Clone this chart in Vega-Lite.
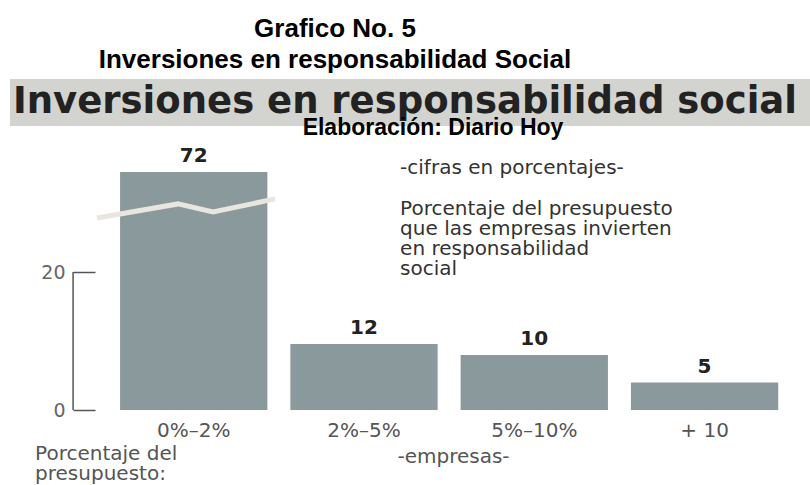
{
  "$schema": "https://vega.github.io/schema/vega-lite/v6.json",
  "padding": {"left": 10, "top": 16, "right": 0, "bottom": 0},
  "bounds": "flush",
  "spacing": 0,
  "background": "white",
  "title": {
    "text": ["Grafico No. 5", "Inversiones en responsabilidad Social"],
    "font": "Liberation Sans",
    "fontSize": 26,
    "fontWeight": "bold",
    "color": "#000000",
    "lineHeight": 31,
    "anchor": "middle",
    "dx": -75,
    "offset": 6
  },
  "config": {"view": {"stroke": null}, "font": "DejaVu Sans"},
  "vconcat": [
    {
      "width": 800,
      "height": 47,
      "view": {"fill": "#d3d3cf", "stroke": null},
      "data": {"values": [{"banner": "Inversiones en responsabilidad social", "source": "Elaboración: Diario Hoy"}]},
      "layer": [
        {
          "mark": {"type": "text", "font": "DejaVu Sans", "fontWeight": "bold", "fontSize": 37, "color": "#222222", "baseline": "alphabetic", "align": "center", "dx": -5, "dy": 10},
          "encoding": {"text": {"field": "banner", "type": "nominal"}}
        },
        {
          "mark": {"type": "text", "font": "Liberation Sans", "fontWeight": "bold", "fontSize": 23, "color": "#000000", "baseline": "alphabetic", "align": "center", "dx": 23, "dy": 32.5},
          "encoding": {"text": {"field": "source", "type": "nominal"}}
        }
      ]
    },
    {
      "width": 800,
      "height": 284,
      "resolve": {"scale": {"x": "independent"}, "axis": {"x": "independent"}},
      "layer": [
        {
          "data": {"values": [
            {"rango": "0%–2%", "empresas": 72},
            {"rango": "2%–5%", "empresas": 12},
            {"rango": "5%–10%", "empresas": 10},
            {"rango": "+ 10", "empresas": 5}
          ]},
          "encoding": {
            "x": {
              "field": "rango",
              "type": "nominal",
              "sort": null,
              "scale": {"domain": ["0%–2%", "2%–5%", "5%–10%", "+ 10"], "paddingInner": 0.135, "paddingOuter": 0.4165, "align": 0.776},
              "axis": {
                "title": "-empresas-",
                "labelAngle": 0,
                "domain": false,
                "ticks": false,
                "labelFont": "DejaVu Sans",
                "labelFontSize": 20,
                "labelColor": "#555555",
                "labelPadding": 10,
                "titleFont": "DejaVu Sans",
                "titleFontSize": 20,
                "titleFontWeight": "normal",
                "titleColor": "#555555",
                "titlePadding": 6,
                "titleX": 443
              }
            }
          },
          "layer": [
            {
              "mark": {"type": "bar", "color": "#8a999c"},
              "encoding": {
                "y": {
                  "field": "empresas",
                  "type": "quantitative",
                  "scale": {"domain": [0, 12, 20, 72], "range": [284, 218, 146, 46], "nice": false, "zero": false},
                  "axis": {
                    "values": [0, 20],
                    "orient": "left",
                    "offset": -85,
                    "domain": false,
                    "ticks": true,
                    "tickSize": 22,
                    "tickColor": "#555555",
                    "tickWidth": 1.5,
                    "labelFont": "DejaVu Sans",
                    "labelFontSize": 19,
                    "labelColor": "#666666",
                    "labelPadding": 8,
                    "title": null,
                    "grid": false
                  }
                }
              }
            },
            {
              "mark": {"type": "text", "font": "DejaVu Sans", "fontWeight": "bold", "fontSize": 20, "color": "#222222", "baseline": "alphabetic", "dy": -10},
              "encoding": {
                "y": {"field": "empresas", "type": "quantitative"},
                "text": {"field": "empresas", "type": "quantitative"}
              }
            },
            {
              "data": {"values": [{"lo": 0, "hi": 20}]},
              "mark": {"type": "rule", "color": "#555555", "strokeWidth": 1.5},
              "encoding": {
                "x": {"datum": "0%–2%", "type": "nominal", "bandPosition": -0.319},
                "y": {"field": "lo", "type": "quantitative"},
                "y2": {"field": "hi"}
              }
            },
            {
              "data": {"values": [
                {"lab": "-cifras en porcentajes-", "v": 79.3},
                {"lab": ["Porcentaje del presupuesto", "que las empresas invierten", "en responsabilidad", "social"], "v": 58.2}
              ]},
              "mark": {"type": "text", "font": "DejaVu Sans", "fontSize": 20, "lineHeight": 20, "color": "#333333", "align": "left", "baseline": "top"},
              "encoding": {
                "x": {"datum": "2%–5%", "type": "nominal", "bandPosition": 0.745},
                "y": {"field": "v", "type": "quantitative"},
                "text": {"field": "lab"}
              }
            },
            {
              "data": {"values": [
                {"lab": ["Porcentaje del", "presupuesto:"], "v": -6.2}
              ]},
              "mark": {"type": "text", "font": "DejaVu Sans", "fontSize": 20, "lineHeight": 20, "color": "#555555", "align": "left", "baseline": "top"},
              "encoding": {
                "x": {"datum": "0%–2%", "type": "nominal", "bandPosition": -0.577},
                "y": {"field": "v", "type": "quantitative"},
                "text": {"field": "lab"}
              }
            }
          ]
        },
        {
          "data": {"values": [
            {"t": -0.5675, "v": 48.1},
            {"t": -0.0919, "v": 55.4},
            {"t": 0.1137, "v": 51.2},
            {"t": 0.4778, "v": 58.0}
          ]},
          "mark": {"type": "line", "color": "#e8e6de", "strokeWidth": 5},
          "encoding": {
            "x": {"field": "t", "type": "quantitative", "scale": {"domain": [-1.0784, 3.6192], "nice": false, "zero": false}, "axis": null},
            "y": {"field": "v", "type": "quantitative"},
            "order": {"field": "t", "type": "quantitative"}
          }
        }
      ]
    }
  ]
}
